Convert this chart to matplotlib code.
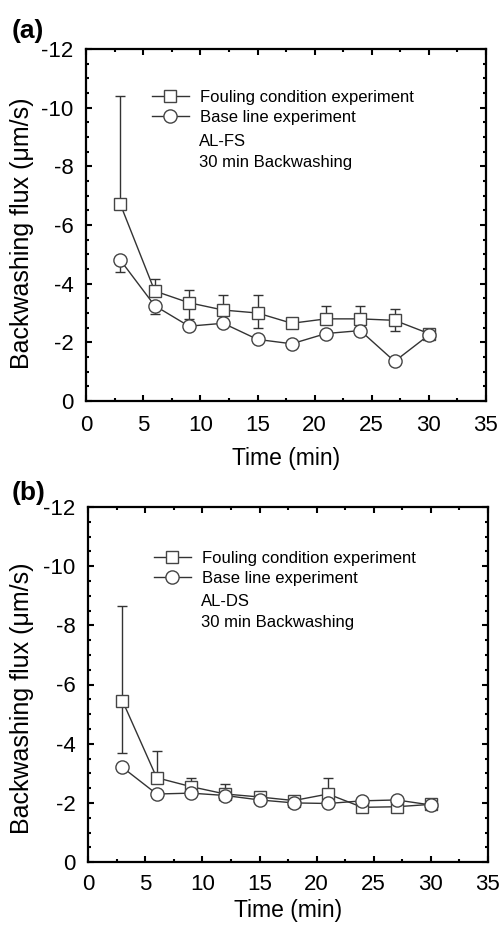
import numpy as np
import matplotlib
matplotlib.use("Agg")
import matplotlib.pyplot as plt
from matplotlib.lines import Line2D
from matplotlib.ticker import MultipleLocator

plt.rcParams['font.family'] = ['Liberation Sans', 'DejaVu Sans']
plt.rcParams['axes.unicode_minus'] = False

# --- data ---
time = [3, 6, 9, 12, 15, 18, 21, 24, 27, 30]

# panel (a) AL-FS
a_foul = [-6.7, -3.75, -3.35, -3.1, -3.0, -2.65, -2.8, -2.8, -2.75, -2.3]
a_foul_err_hi = [3.7, 0.4, 0.45, 0.5, 0.6, 0.0, 0.45, 0.45, 0.38, 0.0]
a_foul_err_lo = [0.0, 0.0, 0.55, 0.0, 0.5, 0.0, 0.0, 0.0, 0.35, 0.0]
a_base = [-4.8, -3.25, -2.55, -2.65, -2.1, -1.95, -2.3, -2.4, -1.35, -2.25]
a_base_err_hi = [0.0] * 10
a_base_err_lo = [0.4, 0.3, 0.0, 0.0, 0.0, 0.0, 0.0, 0.0, 0.0, 0.0]

# panel (b) AL-DS
b_foul = [-5.45, -2.85, -2.55, -2.3, -2.2, -2.08, -2.3, -1.85, -1.87, -1.95]
b_foul_err_hi = [3.2, 0.9, 0.3, 0.35, 0.1, 0.0, 0.55, 0.0, 0.0, 0.0]
b_foul_err_lo = [1.75, 0.0, 0.0, 0.0, 0.0, 0.0, 0.0, 0.0, 0.0, 0.0]
b_base = [-3.2, -2.3, -2.33, -2.25, -2.1, -2.0, -1.98, -2.07, -2.1, -1.93]
b_base_err_hi = [0.0] * 10
b_base_err_lo = [0.0] * 10

panels = [
    ("(a)", "AL-FS", a_foul, a_foul_err_hi, a_foul_err_lo, a_base, a_base_err_hi, a_base_err_lo),
    ("(b)", "AL-DS", b_foul, b_foul_err_hi, b_foul_err_lo, b_base, b_base_err_hi, b_base_err_lo),
]

fig = plt.figure(figsize=(5.01, 9.25), dpi=100)
ax_a = fig.add_axes([0.172, 0.5665, 0.798, 0.3805])
ax_b = fig.add_axes([0.176, 0.068, 0.798, 0.384])

# per-panel placement tweaks (axes fractions / points)
layout = [
    dict(xpad=10, ylab=(-0.13, 0.477), xlab=-0.132, leg_y=0.885, txt_y=(0.738, 0.679), tag_dy=0.006),
    dict(xpad=8.5, ylab=(-0.135, 0.462), xlab=-0.103, leg_y=0.876, txt_y=(0.733, 0.674), tag_dy=0.002),
]

line_col = '#333333'
edge_col = '#444444'
sq_kw = dict(color=line_col, lw=1.0, marker='s', ms=8.5, mfc='white', mec=edge_col, mew=1.0)
ci_kw = dict(color=line_col, lw=1.0, marker='o', ms=9.5, mfc='white', mec=edge_col, mew=1.0)

for ax, lay, (tag, name, foul, fh, fl, base, bh, bl) in zip([ax_a, ax_b], layout, panels):
    # inverted y axis: "hi" error points toward more negative values
    ax.errorbar(time, foul, yerr=[fh, fl], ecolor=line_col, elinewidth=1.0,
                capsize=3.5, capthick=1.0, **sq_kw)
    ax.errorbar(time, base, yerr=[bh, bl], ecolor=line_col, elinewidth=1.0,
                capsize=3.5, capthick=1.0, **ci_kw)

    ax.set_xlim(0, 35)
    ax.set_ylim(0, -12)
    ax.xaxis.set_major_locator(MultipleLocator(5))
    ax.xaxis.set_minor_locator(MultipleLocator(2.5))
    ax.yaxis.set_major_locator(MultipleLocator(2))
    ax.yaxis.set_minor_locator(MultipleLocator(0.5))
    ax.tick_params(which='both', direction='in', top=True, right=True, labelsize=16, width=1.5)
    ax.tick_params(which='major', length=4)
    ax.tick_params(which='minor', length=2.5)
    ax.tick_params(axis='x', pad=lay['xpad'])
    ax.tick_params(axis='y', pad=9)
    for s in ax.spines.values():
        s.set_linewidth(1.6)

    ax.set_xlabel('Time (min)', fontsize=16.5)
    ax.set_ylabel('Backwashing flux (\u03bcm/s)', fontsize=18)
    ax.xaxis.set_label_coords(0.5, lay['xlab'])
    ax.yaxis.set_label_coords(*lay['ylab'])

    handles = [Line2D([], [], **sq_kw), Line2D([], [], **ci_kw)]
    labels = ['Fouling condition experiment', 'Base line experiment']
    ax.legend(handles, labels, loc='upper left', bbox_to_anchor=(0.165, lay['leg_y']),
              frameon=False, fontsize=12, handlelength=2.2, handletextpad=0.65,
              labelspacing=0.3, borderaxespad=0, borderpad=0)
    ax.text(0.283, lay['txt_y'][0], name, transform=ax.transAxes, fontsize=12, va='center')
    ax.text(0.283, lay['txt_y'][1], '30 min Backwashing', transform=ax.transAxes,
            fontsize=12, va='center')

    pos = ax.get_position()
    fig.text(0.024, pos.y1 + lay['tag_dy'], tag, fontsize=19, fontweight='bold', va='bottom')

fig.savefig('out.png', dpi=100)
